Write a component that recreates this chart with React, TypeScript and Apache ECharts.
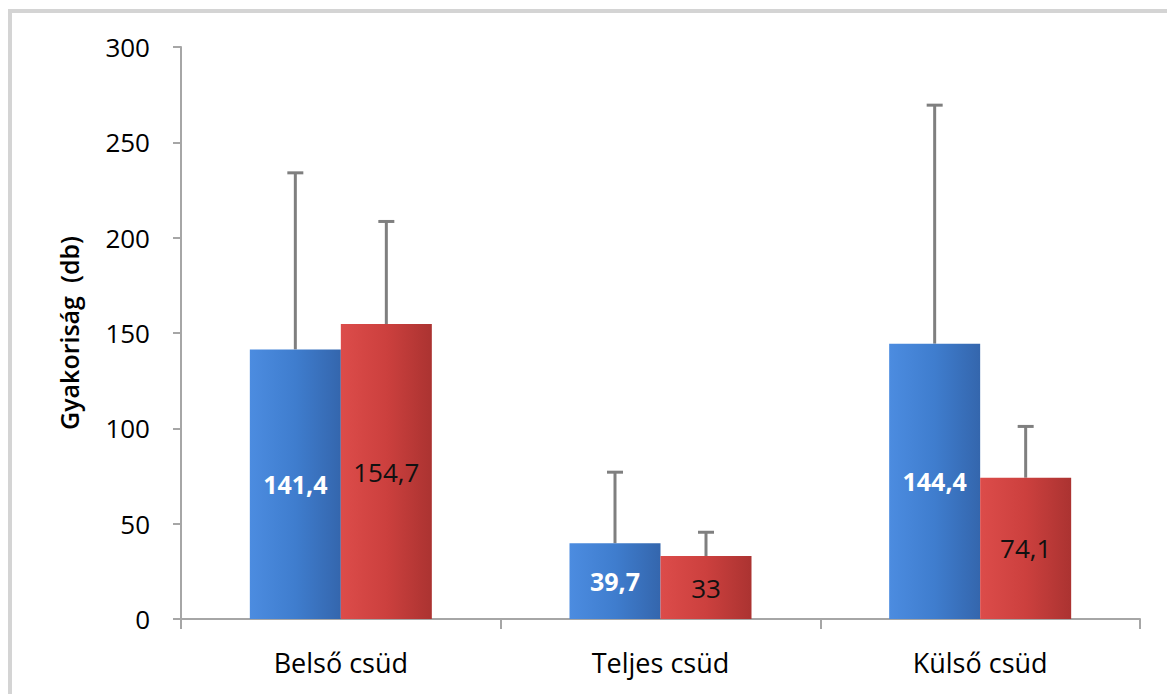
import React, { useEffect, useRef } from "react";
import * as echarts from "echarts";

const categories = ["Belső csüd", "Teljes csüd", "Külső csüd"];
const blueValues = [141.4, 39.7, 144.4];
const redValues = [154.7, 33, 74.1];
const blueUpper = [234, 77, 269.5];
const redUpper = [208.5, 45.5, 101];
const yTicks = { min: 0, max: 300, interval: 50 };
const yName = "Gyakoriság  (db)";

const FONT = "'Open Sans', Lato, sans-serif";
const BAR_W = 91;

function fmt(v: number) {
  return String(v).replace(".", ",");
}

export default function App() {
  const ref = useRef<HTMLDivElement>(null);
  useEffect(() => {
    if (!ref.current) return;
    const chart = echarts.init(ref.current, null, { renderer: "svg" });

    const errRender = (offset: number) => (params: any, api: any) => {
      const idx = api.value(0);
      const base = api.coord([idx, api.value(1)]);
      const top = api.coord([idx, api.value(2)]);
      const x = base[0] + offset;
      const style = { stroke: "#7f7f7f", lineWidth: 3 };
      return {
        type: "group",
        children: [
          { type: "line", shape: { x1: x, y1: base[1], x2: x, y2: top[1] }, style },
          { type: "line", shape: { x1: x - 8, y1: top[1], x2: x + 8, y2: top[1] }, style },
        ],
      };
    };

    const blueGrad = new echarts.graphic.LinearGradient(0, 0, 1, 0, [
      { offset: 0, color: "#4c8ce0" },
      { offset: 0.5, color: "#3f7dce" },
      { offset: 1, color: "#3466ad" },
    ]);
    const redGrad = new echarts.graphic.LinearGradient(0, 0, 1, 0, [
      { offset: 0, color: "#dc4c4a" },
      { offset: 0.5, color: "#cc403e" },
      { offset: 1, color: "#ab3331" },
    ]);

    chart.setOption({
      animation: false,
      backgroundColor: "#ffffff",
      graphic: [
        {
          type: "rect",
          shape: { x: 10, y: 11, width: 1200, height: 720 },
          style: { fill: "none", stroke: "#d4d4d4", lineWidth: 4 },
          silent: true,
        },
      ],
      grid: { left: 181, right: 27, top: 47, bottom: 75 },
      xAxis: {
        type: "category",
        data: categories,
        axisLine: { lineStyle: { color: "#a6a6a6", width: 2 } },
        axisTick: { show: true, length: 10, lineStyle: { color: "#a6a6a6", width: 2 } },
        axisLabel: { color: "#000", fontSize: 27, fontFamily: FONT, margin: 30 },
      },
      yAxis: {
        type: "value",
        min: yTicks.min,
        max: yTicks.max,
        interval: yTicks.interval,
        name: yName,
        nameLocation: "middle",
        nameGap: 100,
        nameTextStyle: { color: "#000", fontSize: 25, fontFamily: FONT, fontWeight: 600 },
        axisLine: { show: true, lineStyle: { color: "#a6a6a6", width: 2 } },
        axisTick: { show: true, length: 8, lineStyle: { color: "#a6a6a6", width: 2 } },
        splitLine: { show: false },
        axisLabel: { color: "#000", fontSize: 26, fontFamily: FONT, margin: 31 },
      },
      series: [
        {
          type: "bar",
          data: blueValues,
          barWidth: BAR_W,
          barGap: "0%",
          itemStyle: { color: blueGrad },
          label: {
            show: true,
            position: "inside",
            color: "#ffffff",
            fontWeight: "bold",
            fontSize: 25,
            fontFamily: FONT,
            formatter: (p: any) => fmt(p.value),
          },
        },
        {
          type: "bar",
          data: redValues,
          barWidth: BAR_W,
          barGap: "0%",
          itemStyle: { color: redGrad },
          label: {
            show: true,
            position: "inside",
            color: "#111111",
            fontSize: 26,
            fontFamily: FONT,
            formatter: (p: any) => fmt(p.value),
          },
        },
        {
          type: "custom",
          renderItem: errRender(-BAR_W / 2),
          data: blueValues.map((v, i) => [i, v, blueUpper[i]]),
          encode: { x: 0, y: [1, 2] },
          z: 1,
        },
        {
          type: "custom",
          renderItem: errRender(BAR_W / 2),
          data: redValues.map((v, i) => [i, v, redUpper[i]]),
          encode: { x: 0, y: [1, 2] },
          z: 1,
        },
      ],
    });
    return () => chart.dispose();
  }, []);
  return (
    <div
      ref={ref}
      style={{ position: "fixed", left: 0, top: 0, width: 1167, height: 694 }}
    />
  );
}
